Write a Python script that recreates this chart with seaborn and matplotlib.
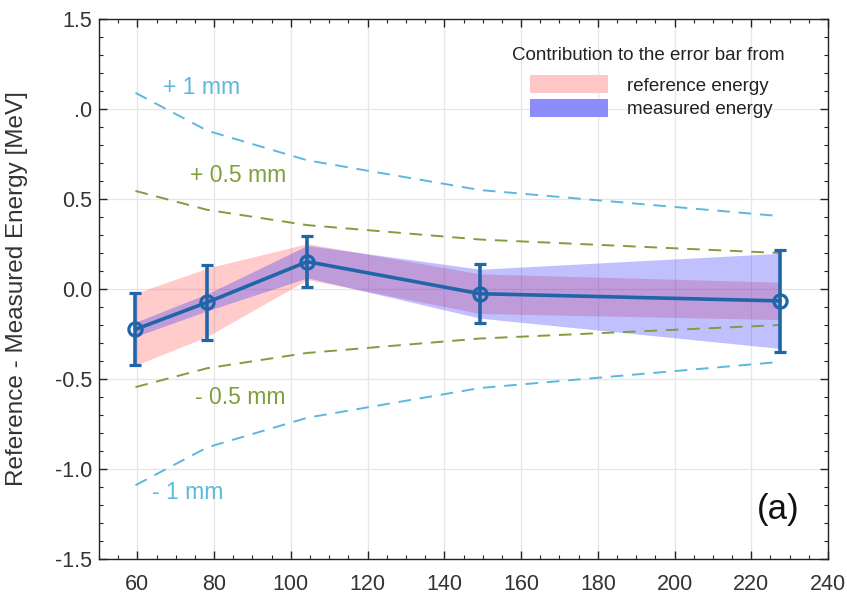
import matplotlib
matplotlib.use("Agg")
import matplotlib.pyplot as plt
import seaborn as sns
import numpy as np
import pandas as pd
from matplotlib.patches import Patch
from matplotlib.ticker import MultipleLocator, FixedLocator, FixedFormatter

# ---- data ----
energy = [59.5, 78.2, 104.3, 149.3, 227.5]
diff = [-0.224, -0.074, 0.152, -0.026, -0.066]
err_total = [0.20, 0.21, 0.14, 0.163, 0.283]
err_reference = [0.20, 0.19, 0.10, 0.11, 0.104]
err_measured = [0.04, 0.047, 0.09, 0.136, 0.264]
plus_1mm = [1.09, 0.88, 0.715, 0.55, 0.405]
plus_05mm = [0.545, 0.44, 0.355, 0.275, 0.2]
y_tick_values = [-1.5, -1.0, -0.5, 0.0, 0.5, 1.0, 1.5]
y_tick_labels = ["-1.5", "-1.0", "-0.5", "0.0", "0.5", ".0", "1.5"]
x_tick_values = [60, 80, 100, 120, 140, 160, 180, 200, 220, 240]

df = pd.DataFrame({"E": energy, "d": diff, "err": err_total,
                   "eref": err_reference, "emeas": err_measured,
                   "p1": plus_1mm, "p05": plus_05mm})
df["m1"] = -df["p1"]
df["m05"] = -df["p05"]

sns.set_theme(style="whitegrid")
plt.rcParams["font.family"] = ["Liberation Sans", "DejaVu Sans"]

fig = plt.figure(figsize=(8.47, 5.95), dpi=100)
ax = fig.add_axes([0.1169, 0.0605, 0.8607, 0.9075])
ax.set_facecolor("white")

line_col = "#1f65a8"
c1 = "#5cb8dc"
c05 = "#7f9e3c"

# bands
ax.fill_between(df["E"], df["d"] - df["eref"], df["d"] + df["eref"],
                color="#ff3030", alpha=0.25, linewidth=0)
ax.fill_between(df["E"], df["d"] - df["emeas"], df["d"] + df["emeas"],
                color="#2020ff", alpha=0.28, linewidth=0)

# dashed curves
for col, c in [("p1", c1), ("m1", c1), ("p05", c05), ("m05", c05)]:
    sns.lineplot(data=df, x="E", y=col, ax=ax, color=c, linestyle=(0, (6.5, 4.5)),
                 linewidth=1.4, estimator=None)

# main line with errorbars
sns.lineplot(data=df, x="E", y="d", ax=ax, color=line_col, linewidth=2.6,
             estimator=None)
ax.errorbar(df["E"], df["d"], yerr=df["err"], fmt="o", color=line_col,
            mfc="none", mec=line_col, ms=9.5, mew=2.3, elinewidth=2.6,
            capsize=4.5, capthick=2.6)

ax.set_xlim(50, 240)
ax.set_ylim(-1.5, 1.5)
ax.xaxis.set_major_locator(FixedLocator(x_tick_values))
ax.xaxis.set_minor_locator(MultipleLocator(5))
ax.yaxis.set_major_locator(FixedLocator(y_tick_values))
ax.yaxis.set_major_formatter(FixedFormatter(y_tick_labels))
ax.yaxis.set_minor_locator(MultipleLocator(0.1))
ax.tick_params(which="both", direction="in", top=True, right=True,
               bottom=True, left=True, colors="#222222", labelcolor="#333333")
ax.tick_params(which="major", length=6, width=1, labelsize=15.5)
ax.tick_params(which="minor", length=3, width=0.8)
ax.tick_params(axis="x", which="major", pad=11)
ax.tick_params(axis="y", which="major", pad=5)
ax.grid(True, which="major", color="#e6e6e6", linewidth=0.9)
ax.grid(False, which="minor")
for s in ax.spines.values():
    s.set_color("#222222")
    s.set_linewidth(1.0)
ax.set_xlabel("")
ax.set_ylabel("Reference - Measured Energy [MeV]", fontsize=17.5, color="#333333")
ax.yaxis.set_label_coords(-0.098, 0.5)

# text annotations
ax.text(66.7, 1.117, "+ 1 mm", color=c1, fontsize=16.5, va="center")
ax.text(73.7, 0.628, "+ 0.5 mm", color=c05, fontsize=16.5, va="center")
ax.text(75.0, -0.60, "- 0.5 mm", color=c05, fontsize=16.5, va="center")
ax.text(63.8, -1.133, "- 1 mm", color=c1, fontsize=16.5, va="center")
ax.text(227, -1.225, "(a)", color="#111111", fontsize=25, va="center", ha="center")

# legend (title drawn as separate text for spacing)
ax.text(0.754, 0.933, "Contribution to the error bar from", transform=ax.transAxes,
        ha="center", va="center", fontsize=13.5, color="#222222")
handles = [Patch(facecolor="#ffc6c6", edgecolor="none"),
           Patch(facecolor="#8c8cfa", edgecolor="none")]
leg = ax.legend(handles, ["reference energy", "measured energy"],
                loc="upper left", bbox_to_anchor=(0.591, 0.896), frameon=False,
                borderpad=0, borderaxespad=0, fontsize=13.5,
                handlelength=4.16, handleheight=1.12,
                handletextpad=1.0, labelspacing=0.22)
for t in leg.get_texts():
    t.set_color("#222222")

fig.savefig("out.png", dpi=100)
